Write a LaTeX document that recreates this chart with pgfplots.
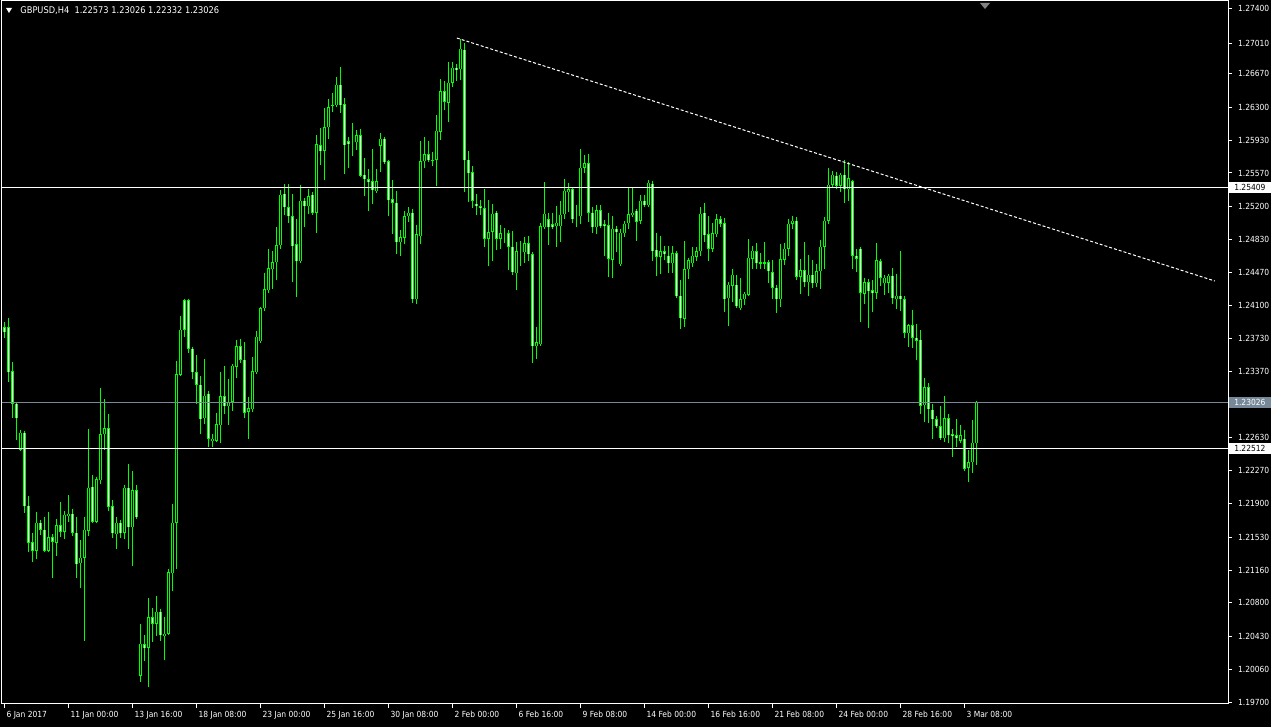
\documentclass[border=0pt]{standalone}
\usepackage{fontspec}
\setmainfont{DejaVu Sans Condensed}
\usepackage{pgfplots}
\pgfplotsset{compat=1.18}
\usepackage{pgfplotstable}

\definecolor{mtgreen}{RGB}{0,255,0}
\definecolor{bidline}{RGB}{119,136,153}
\newcommand{\mtfont}{\fontsize{4.2}{5}\selectfont}

% GBPUSD H4, one row per bar: bar number, open, high, low, close
\pgfplotstableread{
i o h l c
0 1.2386 1.2392 1.2374 1.2380
1 1.2386 1.2396 1.2325 1.2336
2 1.2337 1.2347 1.2285 1.2301
3 1.2301 1.2303 1.2261 1.2285
4 1.2250 1.2272 1.2250 1.2269
5 1.2269 1.2271 1.2180 1.2187
6 1.2188 1.2199 1.2136 1.2147
7 1.2147 1.2157 1.2125 1.2138
8 1.2138 1.2181 1.2129 1.2169
9 1.2169 1.2172 1.2155 1.2161
10 1.2161 1.2175 1.2136 1.2138
11 1.2138 1.2181 1.2137 1.2153
12 1.2153 1.2157 1.2108 1.2148
13 1.2147 1.2173 1.2132 1.2166
14 1.2166 1.2192 1.2153 1.2159
15 1.2159 1.2182 1.2151 1.2178
16 1.2176 1.2200 1.2170 1.2179
17 1.2179 1.2184 1.2154 1.2158
18 1.2158 1.2175 1.2108 1.2123
19 1.2124 1.2150 1.2096 1.2130
20 1.2130 1.2175 1.2038 1.2161
21 1.2160 1.2273 1.2154 1.2208
22 1.2209 1.2222 1.2169 1.2170
23 1.2170 1.2220 1.2169 1.2217
24 1.2216 1.2318 1.2212 1.2267
25 1.2267 1.2306 1.2250 1.2274
26 1.2274 1.2290 1.2182 1.2187
27 1.2187 1.2194 1.2152 1.2157
28 1.2156 1.2175 1.2140 1.2169
29 1.2169 1.2172 1.2152 1.2157
30 1.2158 1.2211 1.2151 1.2208
31 1.2208 1.2234 1.2140 1.2164
32 1.2164 1.2226 1.2121 1.2205
33 1.2205 1.2211 1.2173 1.2175
34 1.1999 1.2057 1.1992 1.2035
35 1.2034 1.2044 1.2016 1.2030
36 1.2030 1.2086 1.1987 1.2064
37 1.2064 1.2074 1.2037 1.2057
38 1.2057 1.2088 1.2043 1.2070
39 1.2070 1.2073 1.2038 1.2044
40 1.2043 1.2064 1.2017 1.2046
41 1.2046 1.2118 1.2045 1.2114
42 1.2113 1.2190 1.2093 1.2169
43 1.2169 1.2348 1.2118 1.2334
44 1.2333 1.2398 1.2332 1.2383
45 1.2416 1.2416 1.2375 1.2383
46 1.2416 1.2416 1.2357 1.2362
47 1.2362 1.2362 1.2328 1.2336
48 1.2336 1.2355 1.2301 1.2322
49 1.2322 1.2332 1.2267 1.2284
50 1.2285 1.2351 1.2279 1.2310
51 1.2312 1.2315 1.2253 1.2262
52 1.2260 1.2268 1.2253 1.2262
53 1.2260 1.2291 1.2258 1.2278
54 1.2277 1.2336 1.2258 1.2309
55 1.2309 1.2343 1.2289 1.2298
56 1.2298 1.2329 1.2277 1.2303
57 1.2303 1.2345 1.2293 1.2343
58 1.2342 1.2372 1.2330 1.2365
59 1.2365 1.2373 1.2346 1.2350
60 1.2350 1.2369 1.2285 1.2291
61 1.2292 1.2308 1.2262 1.2296
62 1.2295 1.2353 1.2292 1.2337
63 1.2336 1.2382 1.2335 1.2375
64 1.2370 1.2407 1.2370 1.2407
65 1.2407 1.2446 1.2404 1.2428
66 1.2427 1.2473 1.2424 1.2451
67 1.2450 1.2470 1.2428 1.2458
68 1.2458 1.2497 1.2438 1.2477
69 1.2477 1.2538 1.2473 1.2533
70 1.2534 1.2545 1.2510 1.2519
71 1.2519 1.2545 1.2502 1.2509
72 1.2509 1.2534 1.2436 1.2476
73 1.2478 1.2506 1.2419 1.2459
74 1.2459 1.2544 1.2458 1.2526
75 1.2526 1.2529 1.2497 1.2520
76 1.2520 1.2539 1.2512 1.2531
77 1.2533 1.2536 1.2510 1.2513
78 1.2513 1.2599 1.2491 1.2589
79 1.2588 1.2607 1.2566 1.2581
80 1.2582 1.2629 1.2549 1.2608
81 1.2608 1.2639 1.2595 1.2630
82 1.2632 1.2646 1.2625 1.2633
83 1.2632 1.2663 1.2631 1.2655
84 1.2655 1.2675 1.2624 1.2632
85 1.2633 1.2640 1.2556 1.2588
86 1.2592 1.2597 1.2563 1.2589
87 1.2591 1.2612 1.2576 1.2591
88 1.2591 1.2605 1.2583 1.2599
89 1.2599 1.2606 1.2553 1.2554
90 1.2555 1.2574 1.2531 1.2550
91 1.2550 1.2561 1.2515 1.2547
92 1.2548 1.2584 1.2523 1.2538
93 1.2537 1.2562 1.2535 1.2548
94 1.2587 1.2601 1.2558 1.2595
95 1.2595 1.2595 1.2569 1.2569
96 1.2570 1.2571 1.2509 1.2527
97 1.2528 1.2549 1.2489 1.2524
98 1.2524 1.2537 1.2467 1.2480
99 1.2480 1.2494 1.2465 1.2486
100 1.2485 1.2515 1.2478 1.2509
101 1.2509 1.2519 1.2503 1.2513
102 1.2513 1.2517 1.2413 1.2417
103 1.2417 1.2499 1.2412 1.2489
104 1.2487 1.2592 1.2478 1.2570
105 1.2570 1.2597 1.2563 1.2578
106 1.2578 1.2592 1.2571 1.2571
107 1.2572 1.2580 1.2565 1.2571
108 1.2572 1.2621 1.2543 1.2604
109 1.2603 1.2661 1.2594 1.2648
110 1.2648 1.2659 1.2627 1.2636
111 1.2635 1.2680 1.2613 1.2657
112 1.2657 1.2680 1.2652 1.2674
113 1.2674 1.2678 1.2659 1.2671
114 1.2672 1.2706 1.2660 1.2695
115 1.2694 1.2701 1.2536 1.2571
116 1.2572 1.2581 1.2525 1.2557
117 1.2558 1.2565 1.2518 1.2526
118 1.2523 1.2534 1.2511 1.2520
119 1.2520 1.2527 1.2510 1.2518
120 1.2518 1.2539 1.2475 1.2484
121 1.2484 1.2527 1.2454 1.2491
122 1.2492 1.2523 1.2459 1.2512
123 1.2513 1.2515 1.2472 1.2484
124 1.2484 1.2499 1.2473 1.2490
125 1.2490 1.2496 1.2479 1.2490
126 1.2490 1.2494 1.2449 1.2475
127 1.2475 1.2493 1.2444 1.2447
128 1.2446 1.2480 1.2427 1.2470
129 1.2470 1.2481 1.2454 1.2470
130 1.2469 1.2486 1.2457 1.2479
131 1.2479 1.2487 1.2459 1.2467
132 1.2467 1.2469 1.2346 1.2365
133 1.2365 1.2386 1.2351 1.2369
134 1.2367 1.2502 1.2366 1.2498
135 1.2497 1.2547 1.2496 1.2512
136 1.2506 1.2513 1.2477 1.2497
137 1.2500 1.2513 1.2496 1.2497
138 1.2498 1.2520 1.2475 1.2502
139 1.2498 1.2526 1.2480 1.2511
140 1.2511 1.2550 1.2506 1.2537
141 1.2536 1.2546 1.2514 1.2539
142 1.2539 1.2539 1.2502 1.2506
143 1.2508 1.2522 1.2497 1.2508
144 1.2509 1.2584 1.2501 1.2563
145 1.2563 1.2577 1.2557 1.2568
146 1.2568 1.2578 1.2503 1.2513
147 1.2513 1.2519 1.2491 1.2497
148 1.2497 1.2522 1.2489 1.2516
149 1.2516 1.2521 1.2497 1.2498
150 1.2500 1.2505 1.2465 1.2498
151 1.2499 1.2513 1.2442 1.2462
152 1.2461 1.2509 1.2441 1.2495
153 1.2495 1.2498 1.2469 1.2491
154 1.2456 1.2495 1.2455 1.2491
155 1.2490 1.2504 1.2486 1.2501
156 1.2501 1.2541 1.2495 1.2511
157 1.2510 1.2541 1.2508 1.2513
158 1.2515 1.2517 1.2481 1.2503
159 1.2504 1.2533 1.2500 1.2526
160 1.2526 1.2533 1.2519 1.2521
161 1.2521 1.2549 1.2519 1.2546
162 1.2545 1.2548 1.2459 1.2470
163 1.2472 1.2491 1.2443 1.2464
164 1.2464 1.2487 1.2445 1.2470
165 1.2470 1.2476 1.2461 1.2467
166 1.2465 1.2476 1.2446 1.2457
167 1.2457 1.2476 1.2446 1.2468
168 1.2468 1.2470 1.2420 1.2420
169 1.2421 1.2438 1.2384 1.2396
170 1.2395 1.2481 1.2386 1.2450
171 1.2450 1.2463 1.2439 1.2460
172 1.2457 1.2475 1.2453 1.2465
173 1.2464 1.2475 1.2459 1.2470
174 1.2470 1.2519 1.2465 1.2512
175 1.2513 1.2524 1.2481 1.2488
176 1.2489 1.2509 1.2459 1.2473
177 1.2473 1.2502 1.2469 1.2490
178 1.2489 1.2511 1.2486 1.2506
179 1.2506 1.2509 1.2497 1.2501
180 1.2501 1.2507 1.2403 1.2417
181 1.2418 1.2436 1.2387 1.2433
182 1.2432 1.2451 1.2414 1.2444
183 1.2433 1.2444 1.2408 1.2409
184 1.2407 1.2441 1.2406 1.2417
185 1.2417 1.2424 1.2411 1.2423
186 1.2422 1.2484 1.2420 1.2463
187 1.2462 1.2476 1.2450 1.2471
188 1.2470 1.2479 1.2451 1.2457
189 1.2457 1.2468 1.2450 1.2458
190 1.2458 1.2481 1.2450 1.2457
191 1.2458 1.2460 1.2435 1.2448
192 1.2447 1.2460 1.2417 1.2430
193 1.2430 1.2433 1.2402 1.2417
194 1.2417 1.2478 1.2408 1.2461
195 1.2461 1.2479 1.2455 1.2473
196 1.2473 1.2506 1.2465 1.2501
197 1.2501 1.2509 1.2495 1.2504
198 1.2504 1.2508 1.2438 1.2442
199 1.2442 1.2462 1.2423 1.2449
200 1.2449 1.2481 1.2431 1.2436
201 1.2436 1.2466 1.2420 1.2444
202 1.2444 1.2460 1.2429 1.2435
203 1.2435 1.2456 1.2430 1.2448
204 1.2448 1.2483 1.2428 1.2475
205 1.2475 1.2508 1.2450 1.2504
206 1.2504 1.2562 1.2500 1.2544
207 1.2544 1.2559 1.2540 1.2555
208 1.2554 1.2558 1.2539 1.2543
209 1.2543 1.2557 1.2536 1.2555
210 1.2555 1.2571 1.2524 1.2539
211 1.2539 1.2569 1.2526 1.2551
212 1.2548 1.2549 1.2450 1.2465
213 1.2465 1.2473 1.2447 1.2462
214 1.2473 1.2473 1.2392 1.2424
215 1.2423 1.2440 1.2412 1.2436
216 1.2436 1.2439 1.2385 1.2426
217 1.2427 1.2438 1.2403 1.2424
218 1.2424 1.2479 1.2417 1.2460
219 1.2459 1.2462 1.2432 1.2441
220 1.2435 1.2444 1.2422 1.2441
221 1.2435 1.2445 1.2424 1.2443
222 1.2443 1.2451 1.2412 1.2418
223 1.2417 1.2445 1.2406 1.2421
224 1.2421 1.2471 1.2404 1.2417
225 1.2417 1.2421 1.2374 1.2380
226 1.2379 1.2390 1.2364 1.2388
227 1.2388 1.2405 1.2363 1.2374
228 1.2374 1.2389 1.2350 1.2371
229 1.2372 1.2383 1.2289 1.2299
230 1.2299 1.2329 1.2281 1.2319
231 1.2319 1.2324 1.2280 1.2295
232 1.2294 1.2301 1.2262 1.2284
233 1.2284 1.2287 1.2275 1.2276
234 1.2276 1.2298 1.2262 1.2263
235 1.2263 1.2310 1.2259 1.2285
236 1.2285 1.2290 1.2258 1.2266
237 1.2267 1.2273 1.2242 1.2265
238 1.2266 1.2284 1.2253 1.2263
239 1.2260 1.2277 1.2257 1.2266
240 1.2262 1.2272 1.2226 1.2229
241 1.2230 1.2250 1.2214 1.2236
242 1.2236 1.2283 1.2224 1.2258
243 1.22573 1.23026 1.22332 1.23026
}\bars

\begin{document}
\begin{tikzpicture}
\fill[black] (0,0) rectangle (635.5pt,363.5pt);
\begin{axis}[
  at={(1pt,11.5pt)}, anchor=south west,
  scale only axis, width=613pt, height=351.5pt,
  xmin=-0.625, xmax=305.875,
  ymin=1.19678, ymax=1.27478,
  clip=false,
  axis line style={white, line width=0.5pt},
  tick style={white, line width=0.5pt},
  tick align=outside,
  major tick length=2pt,
  xtick pos=left, ytick pos=right,
  yticklabel pos=right,
  xtick={0,16,...,240},
  xticklabels={6 Jan 2017,11 Jan 00:00,13 Jan 16:00,18 Jan 08:00,23 Jan 00:00,25 Jan 16:00,30 Jan 08:00,2 Feb 00:00,6 Feb 16:00,9 Feb 08:00,14 Feb 00:00,16 Feb 16:00,21 Feb 08:00,24 Feb 00:00,28 Feb 16:00,3 Mar 08:00},
  ytick={1.19700,1.20060,1.20430,1.20800,1.21160,1.21530,1.21900,1.22270,1.22630,1.23370,1.23730,1.24100,1.24470,1.24830,1.25200,1.25570,1.25930,1.26300,1.26670,1.27010,1.27400},
  yticklabels={1.19700,1.20060,1.20430,1.20800,1.21160,1.21530,1.21900,1.22270,1.22630,1.23370,1.23730,1.24100,1.24470,1.24830,1.25200,1.25570,1.25930,1.26300,1.26670,1.27010,1.27400},
  tick label style={text=white, font=\mtfont},
  xticklabel style={anchor=north west, xshift=-2.5pt, yshift=2pt},
  yticklabel style={anchor=west, xshift=-0.5pt},
]

% wicks
\addplot[draw=none, mark=none, forget plot,
  error bars/.cd, y dir=both, y explicit,
  error bar style={draw=mtgreen, line width=0.5pt}, error mark=none]
  table[x=i, y expr={(\thisrow{h}+\thisrow{l})/2}, y error expr={(\thisrow{h}-\thisrow{l})/2}] {\bars};

% candle bodies, green outline
\addplot[draw=none, mark=none, forget plot,
  error bars/.cd, y dir=both, y explicit,
  error bar style={draw=mtgreen, line width=1.5pt},
  error mark=-, error mark options={draw=mtgreen, line width=0.5pt, mark size=0.75pt}]
  table[x=i, y expr={(\thisrow{o}+\thisrow{c})/2}, y error expr={abs(\thisrow{o}-\thisrow{c})/2}] {\bars};

% bear bodies white inside
\addplot[draw=none, mark=none, forget plot,
  x filter/.expression={\thisrow{o}>\thisrow{c} ? x : nan},
  error bars/.cd, y dir=both, y explicit,
  error bar style={draw=white, line width=0.5pt}, error mark=none]
  table[x=i, y expr={(\thisrow{o}+\thisrow{c})/2}, y error expr={max(0,abs(\thisrow{o}-\thisrow{c})/2-0.0000555)}] {\bars};

% bull bodies black inside
\addplot[draw=none, mark=none, forget plot,
  x filter/.expression={\thisrow{o}<\thisrow{c} ? x : nan},
  error bars/.cd, y dir=both, y explicit,
  error bar style={draw=black, line width=0.5pt}, error mark=none]
  table[x=i, y expr={(\thisrow{o}+\thisrow{c})/2}, y error expr={max(0,abs(\thisrow{o}-\thisrow{c})/2-0.0000555)}] {\bars};

% horizontal lines and trend line
\addplot[white, line width=0.5pt, forget plot] coordinates {(-0.625,1.25409) (305.875,1.25409)};
\addplot[white, line width=0.5pt, forget plot] coordinates {(-0.625,1.22512) (305.875,1.22512)};
\addplot[bidline, line width=0.5pt, forget plot] coordinates {(-0.625,1.23026) (305.875,1.23026)};
\addplot[white, line width=0.5pt, dash pattern=on 1.5pt off 1pt, forget plot] coordinates {(113.1,1.27067) (302.6,1.24371)};

% price boxes on the scale
\tikzset{pricebox/.style={font=\mtfont, inner sep=0pt, anchor=west, minimum width=21pt, minimum height=5.5pt, xshift=0.25pt}}
\node[pricebox, fill=white, text=black] at (axis cs:305.875,1.25409) {1.25409};
\node[pricebox, fill=white, text=black] at (axis cs:305.875,1.22512) {1.22512};
\node[pricebox, fill=bidline, text=white] at (axis cs:305.875,1.23026) {1.23026};

% symbol line
\fill[white] (rel axis cs:0.00326,0.99004) -- (rel axis cs:0.00816,0.99004) -- (rel axis cs:0.00571,0.98293) -- cycle;
\node[anchor=west, text=white, font=\fontsize{4.6}{5.5}\selectfont, inner sep=0pt] at (rel axis cs:0.0147,0.9858) {GBPUSD,H4\ \ 1.22573 1.23026 1.22332 1.23026};
\fill[gray] (rel axis cs:0.7977,0.99716) -- (rel axis cs:0.8059,0.99716) -- (rel axis cs:0.8018,0.98862) -- cycle;
\end{axis}
\pgfresetboundingbox
\useasboundingbox (0,0) rectangle (635.5pt,363.5pt);
\end{tikzpicture}
\end{document}
